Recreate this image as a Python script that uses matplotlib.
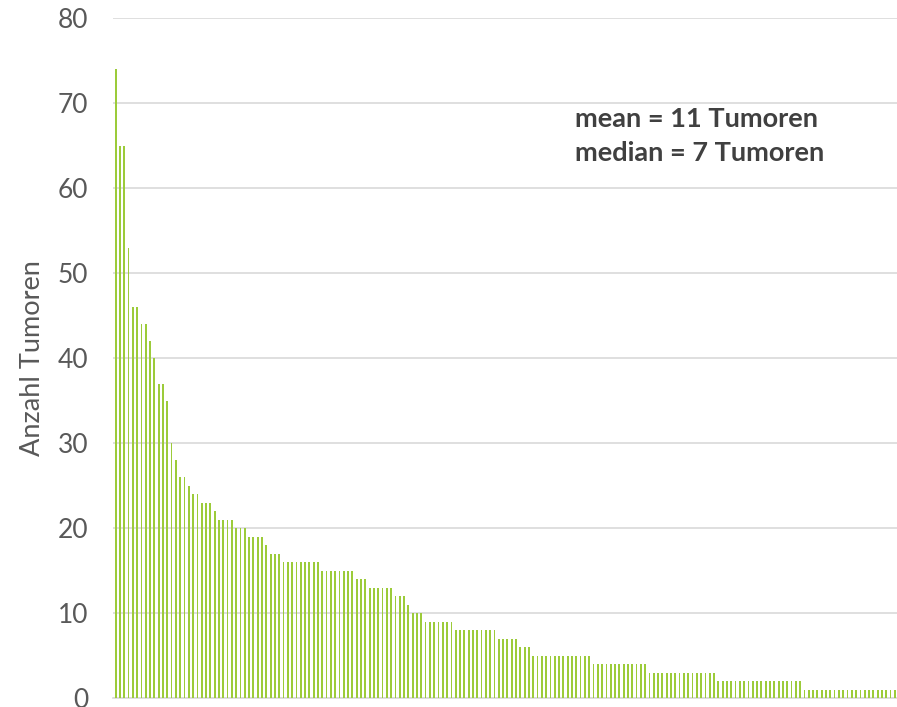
import numpy as np
import matplotlib
matplotlib.use('Agg')  # Use non-interactive backend
import matplotlib.pyplot as plt

# Tumour counts per patient, sorted descending
tumor_counts = (
    [74, 65, 65, 53, 46, 46, 44, 44, 42, 40, 37, 37, 35, 30, 28, 26, 26, 25,
     24, 24, 23, 23, 23, 22]
    + [21] * 4 + [20] * 3 + [19] * 4 + [18] + [17] * 3 + [16] * 9
    + [15] * 8 + [14] * 3 + [13] * 6 + [12] * 3 + [11] + [10] * 3
    + [9] * 7 + [8] * 10 + [7] * 5 + [6] * 3 + [5] * 14 + [4] * 13
    + [3] * 16 + [2] * 20 + [1] * 22
)
y_ticks = [0, 10, 20, 30, 40, 50, 60, 70, 80]
y_label = "Anzahl Tumoren"
note_lines = ["mean = 11 Tumoren", "median = 7 Tumoren"]

plt.rcParams['font.family'] = ['Lato', 'DejaVu Sans']

fig = plt.figure(figsize=(8.97, 7.07), dpi=100)
ax = fig.add_axes([0.1265, 0.0127, 0.8735, 0.9618])

x = np.arange(len(tumor_counts))
ax.bar(x, tumor_counts, width=0.42, color='#9CCB3A', edgecolor='none', zorder=3)

ax.set_xlim(-0.5, len(tumor_counts) - 0.5)
ax.set_ylim(0, 80)
ax.set_yticks(y_ticks)
ax.set_xticks([])
ax.tick_params(axis='y', length=0, pad=18, labelsize=19, labelcolor='#595959')
ax.grid(axis='y', color='#D9D9D9', linewidth=1.2, zorder=0)

for side in ['top', 'left', 'right']:
    ax.spines[side].set_visible(False)
ax.spines['bottom'].set_color('#D9D9D9')
ax.spines['bottom'].set_linewidth(1.2)

ax.set_ylabel(y_label, fontsize=19.5, color='#595959')
ax.yaxis.set_label_coords(-0.087, 0.5)

ax.text(0.589, 0.84, note_lines[0], transform=ax.transAxes, fontsize=19.5,
        fontweight='bold', color='#404040', va='baseline', ha='left')
ax.text(0.589, 0.79, note_lines[1], transform=ax.transAxes, fontsize=19.5,
        fontweight='bold', color='#404040', va='baseline', ha='left')

fig.savefig("out.png", dpi=100)
plt.close(fig)
